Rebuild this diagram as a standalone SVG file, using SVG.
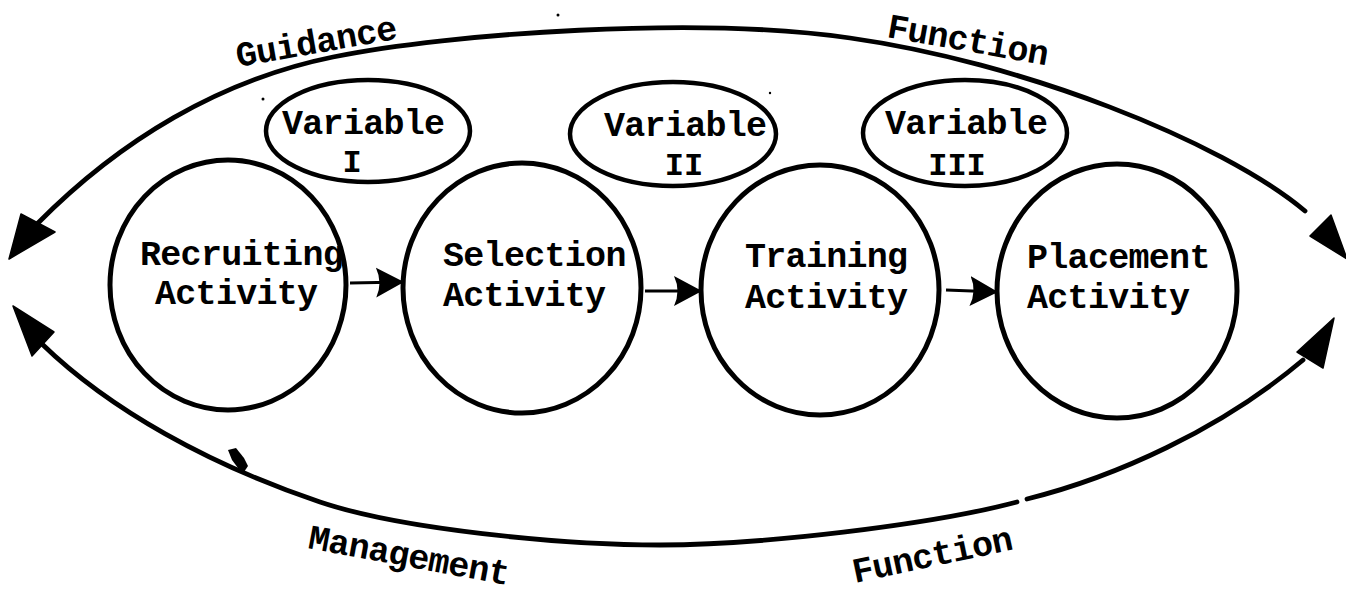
<svg xmlns="http://www.w3.org/2000/svg" width="1346" height="594" viewBox="0 0 1346 594">
  <style>
    .node { fill: none; stroke: #000; stroke-width: 5; }
    .var { fill: none; stroke: #000; stroke-width: 4.5; }
    .loop { fill: none; stroke: #000; stroke-width: 4.8; stroke-linecap: round; }
    .link { fill: none; stroke: #000; stroke-width: 3; }
    .head { fill: #000; stroke: #000; stroke-width: 1.5; stroke-linejoin: round; }
    .lbl { font-family: "Liberation Mono", "Courier New", monospace; font-weight: bold; font-size: 35px; letter-spacing: -0.7px; fill: #000; }
    .num { font-family: "Liberation Mono", "Courier New", monospace; font-weight: bold; font-size: 32px; fill: #000; }
    .speck { fill: #000; }
  </style>
  <defs>
    <marker id="arrow" markerUnits="userSpaceOnUse" markerWidth="30" markerHeight="34" refX="28" refY="17" orient="auto">
      <path d="M0,2 L28,17 L0,32 Q7,17 0,2 Z" fill="#000"/>
    </marker>
  </defs>

  <rect width="1346" height="594" fill="#fff"/>

  <!-- outer feedback loop and the arrows between activities -->
  <g id="connectors">
    <!-- Guidance Function (upper arc) -->
    <path class="loop" d="M37,224 C120,140 220,80 333,57 C450,33 700,16 850,38 C1020,62 1220,140 1305,211"/>
    <polygon class="head" points="9,259 21,214 55,232"/>
    <polygon class="head" points="1310,236 1331,215 1347,259"/>
    <!-- Management Function (lower arc) -->
    <path class="loop" d="M42,344 C110,410 210,465 320,502 C400,529 560,545 660,545 C760,545 930,525 1017,502"/>
    <path class="loop" d="M1027,499 C1115,477 1220,430 1303,360"/>
    <polygon class="head" points="13,306 32,356 54,332"/>
    <polygon class="head" points="1297,352 1334,318 1323,368"/>
    <!-- activity sequence -->
    <line class="link" x1="350" y1="283" x2="404" y2="282" marker-end="url(#arrow)"/>
    <line class="link" x1="645" y1="291" x2="702" y2="291" marker-end="url(#arrow)"/>
    <line class="link" x1="946" y1="290" x2="998" y2="292" marker-end="url(#arrow)"/>
  </g>

  <g id="recruiting">
    <ellipse class="node" cx="228" cy="285" rx="118" ry="125"/>
    <text class="lbl" x="140" y="265">Recruiting</text>
    <text class="lbl" x="155" y="304">Activity</text>
  </g>

  <g id="selection">
    <ellipse class="node" cx="522" cy="288" rx="119" ry="125"/>
    <text class="lbl" x="443" y="266">Selection</text>
    <text class="lbl" x="443" y="306">Activity</text>
  </g>

  <g id="training">
    <ellipse class="node" cx="820" cy="290" rx="119" ry="125"/>
    <text class="lbl" x="745" y="267">Training</text>
    <text class="lbl" x="745" y="308">Activity</text>
  </g>

  <g id="placement">
    <ellipse class="node" cx="1117" cy="291" rx="120" ry="127"/>
    <text class="lbl" x="1027" y="268">Placement</text>
    <text class="lbl" x="1027" y="308">Activity</text>
  </g>

  <g id="variable-1">
    <ellipse class="var" cx="368" cy="131" rx="102" ry="51"/>
    <text class="lbl" x="282" y="134">Variable</text>
    <text class="num" x="352" y="172" text-anchor="middle">I</text>
  </g>

  <g id="variable-2">
    <ellipse class="var" cx="673" cy="134" rx="103" ry="52"/>
    <text class="lbl" x="604" y="136">Variable</text>
    <text class="num" x="684" y="175" text-anchor="middle">II</text>
  </g>

  <g id="variable-3">
    <ellipse class="var" cx="965" cy="133" rx="102" ry="53"/>
    <text class="lbl" x="885" y="134">Variable</text>
    <text class="num" x="957" y="175" text-anchor="middle">III</text>
  </g>

  <!-- loop captions -->
  <g id="loop-labels">
    <text class="lbl" x="238" y="67" transform="rotate(-10 238 67)">Guidance</text>
    <text class="lbl" x="886" y="37" transform="rotate(10 886 37)">Function</text>
    <text class="lbl" x="307" y="548" transform="rotate(10.5 307 548)">Management</text>
    <text class="lbl" x="855" y="583" transform="rotate(-12 855 583)">Function</text>
  </g>

  <!-- small ink marks -->
  <g id="marks">
    <circle class="speck" cx="263" cy="99" r="1.5"/>
    <circle class="speck" cx="558" cy="15" r="1.5"/>
    <circle class="speck" cx="770" cy="93" r="1.2"/>
    <path class="speck" d="M228,450 L236,448 L244,458 L248,466 L244,472 L238,468 L232,460 Z"/>
  </g>
</svg>
